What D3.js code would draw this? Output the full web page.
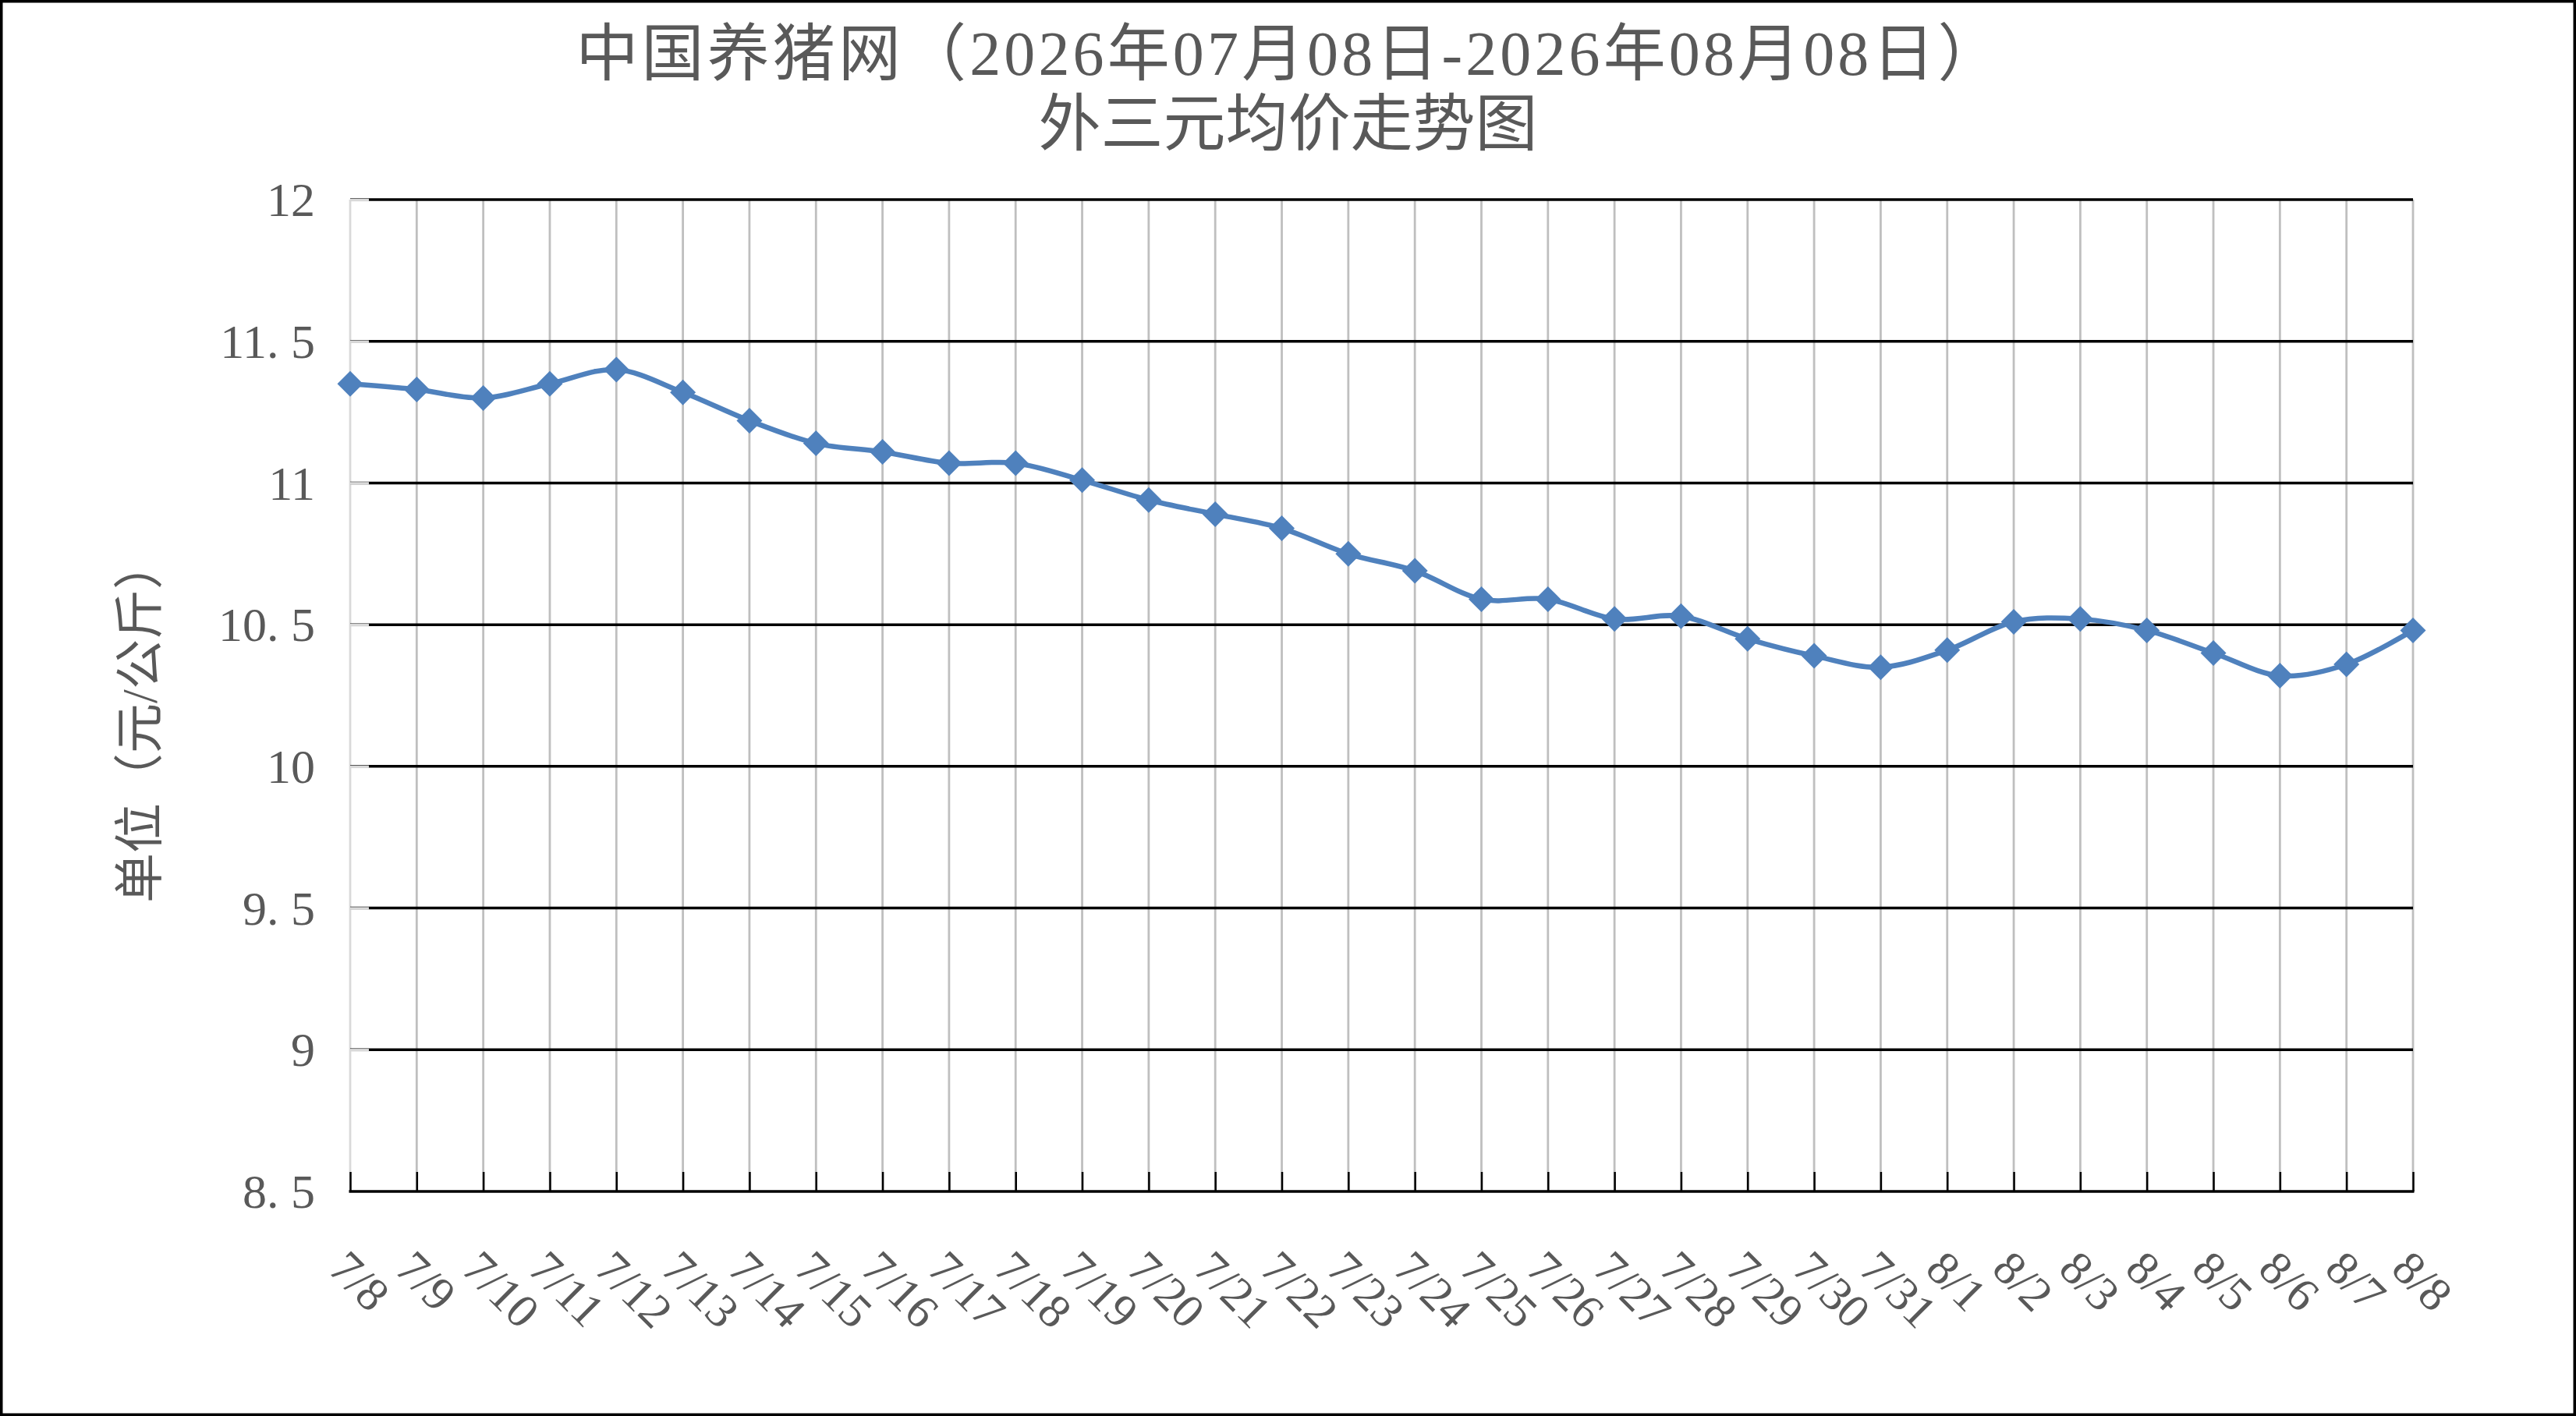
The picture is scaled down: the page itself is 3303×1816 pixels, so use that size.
<!DOCTYPE html>
<html>
<head>
<meta charset="utf-8">
<script src="https://cdn.jsdelivr.net/npm/d3@7"></script>
<style>
  html, body { margin: 0; padding: 0; background: #fff; }
  svg { display: block; }
</style>
</head>
<body>
<div id="chart"></div>
<script>
// 日期（类别）
const dates = ["7/8", "7/9", "7/10", "7/11", "7/12", "7/13", "7/14", "7/15", "7/16", "7/17",
    "7/18", "7/19", "7/20", "7/21", "7/22", "7/23", "7/24", "7/25", "7/26", "7/27",
    "7/28", "7/29", "7/30", "7/31", "8/1", "8/2", "8/3", "8/4", "8/5", "8/6", "8/7", "8/8"];

// 外三元均价（元/公斤）
const prices = [11.35, 11.33, 11.30, 11.35, 11.40, 11.32, 11.22, 11.14, 11.11, 11.07,
    11.07, 11.01, 10.94, 10.89, 10.84, 10.75, 10.69, 10.59, 10.59, 10.52,
    10.53, 10.45, 10.39, 10.35, 10.41, 10.51, 10.52, 10.48, 10.40, 10.32, 10.36, 10.48];

const yTicks = [8.5, 9, 9.5, 10, 10.5, 11, 11.5, 12];

const titleLines = ["中国养猪网（2026年07月08日-2026年08月08日）", "外三元均价走势图"];
const yLabel = "单位（元/公斤）";

const width = 3303;
const height = 1816;
const plotLeft = 449, plotRight = 3094, plotTop = 256, plotBottom = 1528;
const textColor = "#595959";
const lineColor = "#4f81bd";
const fontFamily = "'Liberation Serif', 'Noto Sans CJK SC', serif";

const svg = d3.select("#chart")
    .append("svg")
    .attr("width", width)
    .attr("height", height);

svg.append("rect")
    .attr("x", 1.75).attr("y", 1.75)
    .attr("width", width - 3.5).attr("height", height - 3.5)
    .attr("fill", "#fff")
    .attr("stroke", "#000")
    .attr("stroke-width", 3.5);

const x = d3.scalePoint().domain(dates).range([plotLeft, plotRight]);
const y = d3.scaleLinear().domain([8.5, 12]).range([plotBottom, plotTop]);

// 竖向网格线（灰色）
svg.append("g")
    .selectAll("line")
    .data(dates)
    .enter()
    .append("line")
    .attr("x1", d => x(d)).attr("x2", d => x(d))
    .attr("y1", plotTop).attr("y2", plotBottom)
    .attr("stroke", (d, i) => i === 0 ? "#d9d9d9" : "#bfbfbf")
    .attr("stroke-width", 2.8);

// 横向网格线（黑色）
svg.append("g")
    .selectAll("line")
    .data(yTicks.slice(1))
    .enter()
    .append("line")
    .attr("x1", plotLeft).attr("x2", plotRight)
    .attr("y1", d => y(d)).attr("y2", d => y(d))
    .attr("stroke", "#000")
    .attr("stroke-width", 3.5);

// y 轴：浅灰色刻度（内侧）
const yAxis = d3.axisRight(y).tickValues(yTicks.slice(1)).tickSize(24).tickFormat("");
const yAxisG = svg.append("g")
    .attr("transform", `translate(${plotLeft},0)`)
    .call(yAxis);
yAxisG.select(".domain").remove();
yAxisG.selectAll(".tick line").attr("stroke", "#d9d9d9").attr("stroke-width", 3.5);

// y 轴标签（小数点后留半格，仿宋体等宽数字）
const yLabels = svg.append("g")
    .selectAll("text")
    .data(yTicks)
    .enter()
    .append("text")
    .attr("x", 404)
    .attr("y", d => y(d))
    .attr("dy", "0.34em")
    .attr("text-anchor", "end")
    .attr("font-family", fontFamily)
    .attr("font-size", 62)
    .attr("fill", textColor);

yLabels.each(function (d) {
    const parts = String(d).split(".");
    const t = d3.select(this);
    if (parts.length === 1) {
        t.text(parts[0]);
    } else {
        t.append("tspan").text(parts[0] + ".");
        t.append("tspan").attr("dx", "0.25em").text(parts[1]);
    }
});

// x 轴：黑色刻度（内侧）
const xAxis = d3.axisTop(x).tickSize(25).tickFormat("");
const xAxisG = svg.append("g")
    .attr("transform", `translate(0,${plotBottom})`)
    .call(xAxis);
xAxisG.select(".domain").remove();
xAxisG.selectAll(".tick line").attr("stroke", "#000").attr("stroke-width", 2.5);

svg.append("line")
    .attr("x1", plotLeft - 1.5).attr("x2", plotRight + 1.5)
    .attr("y1", plotBottom).attr("y2", plotBottom)
    .attr("stroke", "#000")
    .attr("stroke-width", 3.5);

// x 轴日期标签（旋转 45°）
svg.append("g")
    .selectAll("text")
    .data(dates)
    .enter()
    .append("text")
    .attr("transform", d => `translate(${x(d) - 30},1630) rotate(45)`)
    .attr("font-family", fontFamily)
    .attr("font-size", 61)
    .attr("fill", textColor)
    .text(d => d);

// 平滑折线
const line = d3.line()
    .x((d, i) => x(dates[i]))
    .y(d => y(d))
    .curve(d3.curveCatmullRom.alpha(0));

svg.append("path")
    .datum(prices)
    .attr("d", line)
    .attr("fill", "none")
    .attr("stroke", lineColor)
    .attr("stroke-width", 6.5)
    .attr("stroke-linejoin", "round");

// 菱形标记
const r = 16.5;
svg.append("g")
    .selectAll("path")
    .data(prices)
    .enter()
    .append("path")
    .attr("transform", (d, i) => `translate(${x(dates[i])},${y(d)})`)
    .attr("d", `M0,${-r}L${r},0L0,${r}L${-r},0Z`)
    .attr("fill", lineColor);

// 标题
const titles = svg.append("g")
    .selectAll("text")
    .data(titleLines)
    .enter()
    .append("text")
    .attr("x", width / 2)
    .attr("y", (d, i) => 96 + i * 90)
    .attr("text-anchor", "middle")
    .attr("font-family", fontFamily)
    .attr("font-size", 80)
    .attr("fill", textColor)
    .text(d => d);

// 第一行标题按原图宽度略微拉开字距
titles.filter((d, i) => i === 0).each(function () {
    const len = this.getComputedTextLength();
    d3.select(this).attr("textLength", len * 1.07).attr("lengthAdjust", "spacing");
});

// y 轴标题
svg.append("text")
    .attr("transform", "translate(179,925) rotate(-90)")
    .attr("text-anchor", "middle")
    .attr("dominant-baseline", "central")
    .attr("font-family", fontFamily)
    .attr("font-size", 64)
    .attr("fill", textColor)
    .text(yLabel);
</script>
</body>
</html>
